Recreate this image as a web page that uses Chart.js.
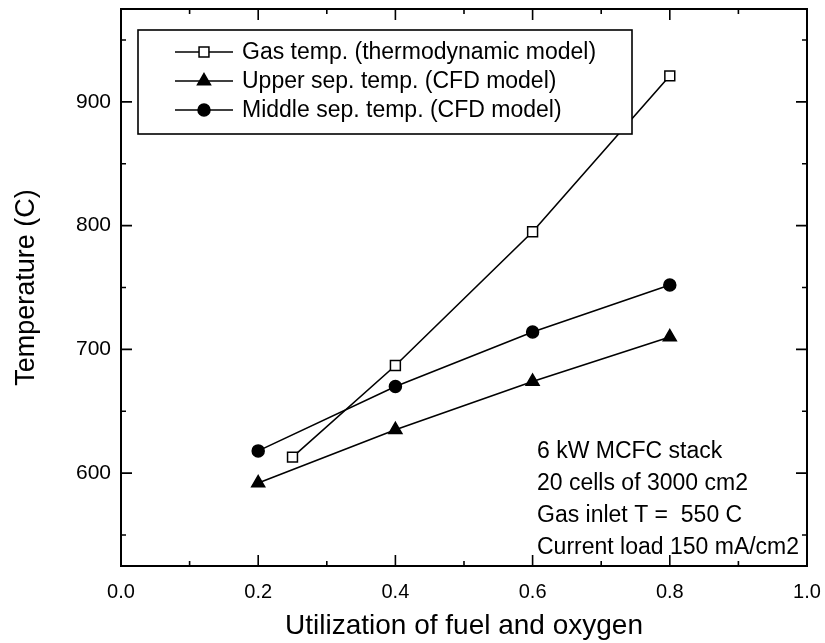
<!DOCTYPE html>
<html>
<head>
<meta charset="utf-8">
<script src="https://cdn.jsdelivr.net/npm/chart.js@4.4.1/dist/chart.umd.min.js"></script>
<style>
  html, body { margin: 0; padding: 0; background: #fff; }
  #wrap { width: 825px; height: 643px; position: relative; }
</style>
</head>
<body>
<div id="wrap"><canvas id="chart"></canvas></div>
<script>
// data
const gasX = [0.25, 0.4, 0.6, 0.8];
const gasTemp = [613, 687, 795, 921];
const sepX = [0.2, 0.4, 0.6, 0.8];
const upperTemp = [592, 635, 674, 710];
const middleTemp = [618, 670, 714, 752];

const seriesLabels = [
  "Gas temp. (thermodynamic model)",
  "Upper sep. temp. (CFD model)",
  "Middle sep. temp. (CFD model)"
];
const xTicks = [0, 0.2, 0.4, 0.6, 0.8, 1.0];
const xMinor = [0.1, 0.3, 0.5, 0.7, 0.9];
const yTicks = [600, 700, 800, 900];
const yMinor = [550, 650, 750, 850, 950];
const noteLines = [
  "6 kW MCFC stack",
  "20 cells of 3000 cm2",
  "Gas inlet T =  550 C",
  "Current load 150 mA/cm2"
];

const FONT = '"Liberation Sans", Arial, sans-serif';

function pts(xs, ys) {
  return xs.map((x, i) => ({ x: x, y: ys[i] }));
}

// frame + inward ticks on all four sides
const frameTicks = {
  id: "frameTicks",
  afterDatasetsDraw(chart) {
    const { ctx, chartArea: a, scales: { x, y } } = chart;
    ctx.save();
    ctx.strokeStyle = "#000";
    ctx.lineWidth = 2;
    ctx.strokeRect(a.left, a.top, a.right - a.left, a.bottom - a.top);
    ctx.lineWidth = 1.6;
    ctx.beginPath();
    const tickX = (v, len) => {
      const px = x.getPixelForValue(v);
      ctx.moveTo(px, a.bottom); ctx.lineTo(px, a.bottom - len);
      ctx.moveTo(px, a.top); ctx.lineTo(px, a.top + len);
    };
    const tickY = (v, len) => {
      const py = y.getPixelForValue(v);
      ctx.moveTo(a.left, py); ctx.lineTo(a.left + len, py);
      ctx.moveTo(a.right, py); ctx.lineTo(a.right - len, py);
    };
    xTicks.forEach(v => tickX(v, 11));
    xMinor.forEach(v => tickX(v, 5));
    yTicks.forEach(v => tickY(v, 11));
    yMinor.forEach(v => tickY(v, 5));
    ctx.stroke();
    ctx.restore();
  }
};

// boxed legend with line + marker samples, and the note text
const boxLegend = {
  id: "boxLegend",
  afterDraw(chart) {
    const { ctx, chartArea: a } = chart;
    ctx.save();
    const bx = a.left + 17, by = a.top + 21, bw = 494, bh = 104;
    ctx.fillStyle = "#fff";
    ctx.fillRect(bx, by, bw, bh);
    ctx.strokeStyle = "#000";
    ctx.lineWidth = 1.6;
    ctx.strokeRect(bx, by, bw, bh);

    ctx.font = "23px " + FONT;
    ctx.textBaseline = "middle";
    chart.data.datasets.forEach((ds, i) => {
      const ry = by + 22 + i * 29;
      ctx.strokeStyle = "#000";
      ctx.lineWidth = 1.6;
      ctx.beginPath();
      ctx.moveTo(bx + 37, ry);
      ctx.lineTo(bx + 95, ry);
      ctx.stroke();
      ctx.fillStyle = ds.pointBackgroundColor;
      ctx.strokeStyle = "#000";
      ctx.lineWidth = ds.pointBorderWidth;
      Chart.helpers.drawPoint(ctx, {
        pointStyle: ds.pointStyle,
        radius: ds.pointRadius,
        borderWidth: ds.pointBorderWidth,
        rotation: 0
      }, bx + 66, ry);
      ctx.fillStyle = "#000";
      ctx.fillText(ds.label, bx + 104, ry + 1);
    });

    const nx = a.right - 270;
    noteLines.forEach((t, i) => {
      ctx.fillText(t, nx, a.bottom - 114 + i * 32);
    });
    ctx.restore();
  }
};

const common = {
  borderColor: "#000",
  borderWidth: 1.6,
  pointBorderColor: "#000",
  pointBorderWidth: 1.5,
  pointHoverRadius: 0,
  tension: 0,
  fill: false
};

new Chart(document.getElementById("chart").getContext("2d"), {
  type: "line",
  data: {
    datasets: [
      Object.assign({}, common, {
        label: seriesLabels[0],
        data: pts(gasX, gasTemp),
        pointStyle: "rect",
        pointRadius: 7,
        pointBackgroundColor: "#fff"
      }),
      Object.assign({}, common, {
        label: seriesLabels[1],
        data: pts(sepX, upperTemp),
        pointStyle: "triangle",
        pointRadius: 7.5,
        pointBackgroundColor: "#000"
      }),
      Object.assign({}, common, {
        label: seriesLabels[2],
        data: pts(sepX, middleTemp),
        pointStyle: "circle",
        pointRadius: 6,
        pointBackgroundColor: "#000"
      })
    ]
  },
  options: {
    responsive: true,
    maintainAspectRatio: false,
    animation: false,
    layout: { padding: { top: 7, right: 18, left: 0, bottom: 0 } },
    plugins: {
      legend: { display: false },
      tooltip: { enabled: false }
    },
    scales: {
      x: {
        type: "linear",
        min: 0,
        max: 1,
        grid: { display: false, drawTicks: false },
        border: { display: false },
        afterBuildTicks: s => { s.ticks = xTicks.map(v => ({ value: v })); },
        afterFit: s => { s.height = 77; s.paddingLeft = 0; s.paddingRight = 0; },
        ticks: {
          color: "#000",
          font: { family: FONT, size: 20 },
          padding: 14,
          maxRotation: 0,
          callback: v => Number(v).toFixed(1)
        },
        title: {
          display: true,
          text: "Utilization of fuel and oxygen",
          color: "#000",
          font: { family: FONT, size: 28 },
          padding: { top: 0, bottom: 0 }
        }
      },
      y: {
        min: 525,
        max: 975,
        grid: { display: false, drawTicks: false },
        border: { display: false },
        afterBuildTicks: s => { s.ticks = yTicks.map(v => ({ value: v })); },
        afterFit: s => { s.width = 121; s.paddingTop = 0; s.paddingBottom = 0; },
        ticks: {
          color: "#000",
          font: { family: FONT, size: 21 },
          padding: 10
        },
        title: {
          display: true,
          text: "Temperature (C)",
          color: "#000",
          font: { family: FONT, size: 27 },
          padding: { top: 10, bottom: 0 }
        }
      }
    }
  },
  plugins: [frameTicks, boxLegend]
});
</script>
</body>
</html>
